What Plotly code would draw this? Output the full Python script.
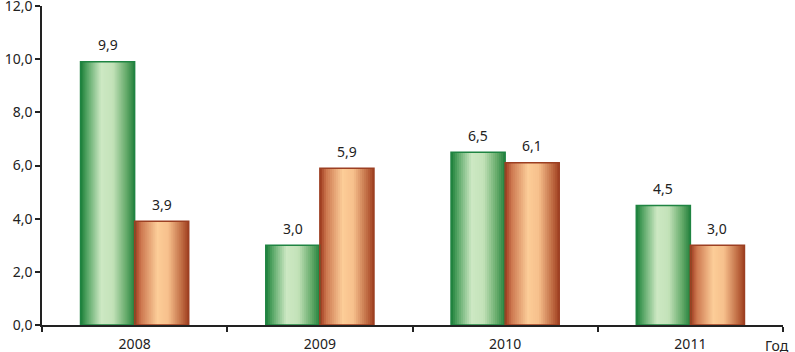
import plotly.graph_objects as go

years = ["2008", "2009", "2010", "2011"]
series_green = [9.9, 3.0, 6.5, 4.5]
series_orange = [3.9, 5.9, 6.1, 3.0]
labels_green = ["9,9", "3,0", "6,5", "4,5"]
labels_orange = ["3,9", "5,9", "6,1", "3,0"]

BAR_W = 0.292
N = 27

green_stops = [(0.0, (25, 125, 55)), (0.12, (85, 165, 100)), (0.38, (205, 232, 195)),
               (0.6, (195, 226, 185)), (0.85, (100, 170, 105)), (1.0, (35, 128, 60))]
orange_stops = [(0.0, (155, 55, 28)), (0.12, (205, 120, 80)), (0.42, (252, 205, 152)),
                (0.62, (247, 192, 140)), (0.88, (190, 105, 65)), (1.0, (158, 62, 32))]


def interp(stops, t):
    for (t0, c0), (t1, c1) in zip(stops[:-1], stops[1:]):
        if t0 <= t <= t1:
            f = (t - t0) / (t1 - t0) if t1 > t0 else 0
            c = [round(a + (b - a) * f) for a, b in zip(c0, c1)]
            return f"rgb({c[0]},{c[1]},{c[2]})"
    c = stops[-1][1]
    return f"rgb({c[0]},{c[1]},{c[2]})"


fig = go.Figure()
sw = BAR_W / N
for vals, start, stops in [(series_green, -BAR_W, green_stops), (series_orange, 0.0, orange_stops)]:
    for i in range(N):
        t = (i + 0.5) / N
        fig.add_trace(go.Bar(
            x=years, y=vals, offset=start + i * sw, width=min(sw * 2.0, BAR_W - i * sw),
            marker=dict(color=interp(stops, t), line=dict(width=0)),
            hoverinfo="skip", showlegend=False,
        ))

for vals, start, lc in [(series_green, -BAR_W, "#1f8442"),
                        (series_orange, 0.0, "#9c3f22")]:
    fig.add_trace(go.Bar(
        x=years, y=vals, offset=start, width=BAR_W,
        marker=dict(color="rgba(0,0,0,0)", line=dict(color=lc, width=1.5)),
        hoverinfo="skip", showlegend=False,
    ))

for vals, labels, dx in [(series_green, labels_green, -BAR_W / 2), (series_orange, labels_orange, BAR_W / 2)]:
    for idx, (v, lab) in enumerate(zip(vals, labels)):
        fig.add_annotation(x=idx + dx, y=v, text=lab, xref="x", yref="y", showarrow=False,
                           yshift=17, xanchor="center", yanchor="middle",
                           font=dict(size=14, color="#222"))

fig.update_layout(
    width=795, height=352,
    margin=dict(l=42, r=12, t=6, b=27, autoexpand=False),
    barmode="overlay",
    plot_bgcolor="white", paper_bgcolor="white",
    font=dict(family="Noto Sans, Open Sans, sans-serif", size=14, color="#222"),
    separators=", ",
)
fig.update_xaxes(
    type="category", range=[-0.5, 3.5], tickson="boundaries", automargin=False,
    ticks="outside", ticklen=5, tickcolor="#222", tickwidth=1.5, ticklabelstandoff=5,
    showline=True, linecolor="#222", linewidth=1.5, showgrid=False,
    tickfont=dict(size=14, color="#222"),
)
fig.update_yaxes(
    range=[0, 12.001], tickvals=[0, 2, 4, 6, 8, 10, 12], tickformat=".1f", automargin=False,
    ticks="outside", ticklen=5, tickcolor="#222", tickwidth=1.5, ticklabeloverflow="allow",
    showline=True, linecolor="#222", linewidth=1.5, showgrid=False, zeroline=False,
    tickfont=dict(size=14, color="#222"),
)
fig.add_annotation(text="Год", xref="paper", yref="paper", x=1.0, y=0, yshift=-20, xshift=-6,
                   xanchor="center", yanchor="middle", showarrow=False,
                   font=dict(size=14, color="#222"))

fig.write_html("out.html", config={"displayModeBar": False},
               post_script="document.body.style.margin='0';document.body.style.overflow='hidden';")
